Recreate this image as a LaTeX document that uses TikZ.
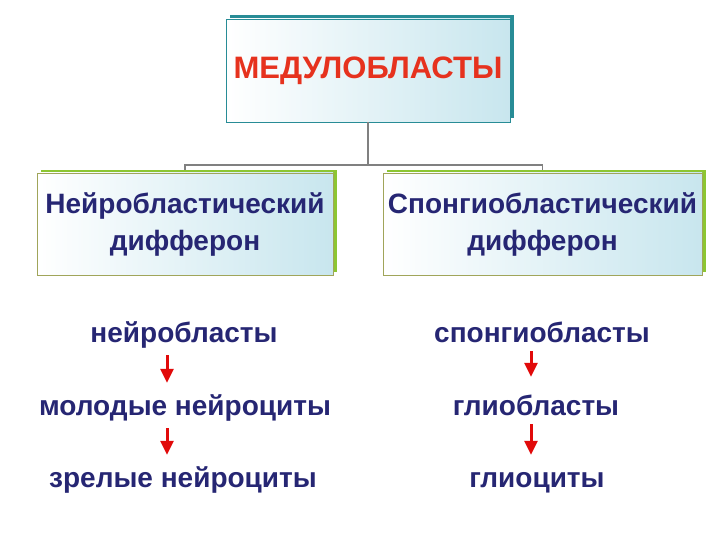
\documentclass[tikz,border=0pt]{standalone}
\usepackage{fontspec}
\setmainfont{Liberation Sans}
\usetikzlibrary{arrows.meta, shadows}
\definecolor{navytext}{RGB}{38,38,115}
\definecolor{titlered}{RGB}{230,50,30}
\definecolor{tealedge}{RGB}{40,140,150}
\definecolor{greenedge}{RGB}{140,198,50}
\definecolor{boxedge}{RGB}{160,165,90}
\definecolor{paleblue}{RGB}{200,230,238}
\definecolor{treegray}{RGB}{128,128,128}
\definecolor{arrowred}{RGB}{225,10,10}

\begin{document}
\begin{tikzpicture}[x=1pt,y=-1pt,
    titlebox/.style={draw=tealedge, line width=0.8pt, left color=white, right color=paleblue,
                     general shadow={fill=tealedge, shadow xshift=4pt, shadow yshift=4pt},
                     inner sep=0pt, align=center},
    diffbox/.style={draw=boxedge, line width=0.8pt, left color=white, right color=paleblue,
                    general shadow={fill=greenedge, shadow xshift=4pt, shadow yshift=3pt},
                    inner sep=0pt, minimum height=102pt, align=center,
                    font=\fontsize{28}{37}\selectfont\bfseries, text=navytext},
    cell/.style={anchor=base, inner sep=2pt, text height=20pt, text depth=7pt,
                 font=\fontsize{28}{32}\selectfont\bfseries, text=navytext},
    treeline/.style={draw=treegray, line width=1.5pt},
    steparrow/.style={-{Triangle[width=13pt,length=14pt]}, draw=arrowred,
                      line width=3pt, shorten <=4pt, shorten >=10pt}]
  \useasboundingbox (0,0) rectangle (720,540);

  % boxes
  \node[titlebox, minimum width=284pt, minimum height=103pt, text=titlered,
        font=\fontsize{31}{36}\selectfont\bfseries] (med) at (368,70.5) {МЕДУЛОБЛАСТЫ};
  \node[diffbox, minimum width=296pt] (neuro) at (185,224) {Нейробластический\\дифферон};
  \node[diffbox, minimum width=319pt] (spongio) at (542.5,224) {Спонгиобластический\\дифферон};

  % tree
  \coordinate (fork) at (368,165);
  \draw[treeline] (med.south) -- (fork);
  \draw[treeline] ([yshift=3pt]neuro.north) |- (fork) -| ([yshift=3pt]spongio.north);

  % cells
  \node[cell] (nb) at (184,342) {нейробласты};
  \node[cell] (mn) at (185,415) {молодые нейроциты};
  \node[cell] (zn) at (183,487) {зрелые нейроциты};
  \node[cell] (sb) at (542,342) {спонгиобласты};
  \node[cell] (gb) at (536,415) {глиобласты};
  \node[cell] (gc) at (537,487) {глиоциты};

  \draw[steparrow] ([xshift=-17pt]nb.south) -- ([xshift=-18pt]mn.north);
  \draw[steparrow] ([xshift=-18pt]mn.south) -- ([xshift=-16pt]zn.north);
  \draw[steparrow, shorten <=0pt, shorten >=16pt] ([xshift=-11pt]sb.south) -- ([xshift=-5pt]gb.north);
  \draw[steparrow, shorten <=0pt] ([xshift=-5pt]gb.south) -- ([xshift=-6pt]gc.north);
\end{tikzpicture}
\end{document}
